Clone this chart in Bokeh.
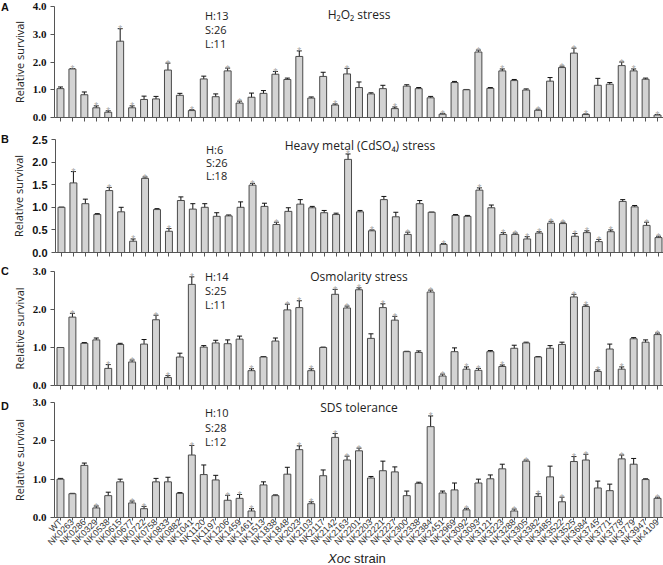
from bokeh.plotting import figure
from bokeh.models import (ColumnDataSource, FactorRange, Range1d, Whisker, TeeHead, Label,
                          FixedTicker, NumeralTickFormatter, CustomJSTickFormatter,
                          CDSView, BooleanFilter, Div)
from bokeh.layouts import column, row
from bokeh.embed import file_html
from bokeh.resources import INLINE
from bokeh.core.properties import value
import math

strains = ["WT", "NK0263", "NK0286", "NK0329", "NK0538", "NK0615", "NK0677", "NK0722", "NK0758",
           "NK0833", "NK0882", "NK1041", "NK1120", "NK1197", "NK1206", "NK1459", "NK1461", "NK1513",
           "NK1838", "NK1848", "NK2023", "NK2103", "NK2117", "NK2142", "NK2163", "NK2201", "NK2203",
           "NK2221", "NK2227", "NK2300", "NK2338", "NK2384", "NK2451", "NK2969", "NK3092", "NK3093",
           "NK3121", "NK3223", "NK3288", "NK3305", "NK3382", "NK3485", "NK3522", "NK3525", "NK3684",
           "NK3745", "NK3771", "NK3778", "NK3779", "NK3947", "NK4109"]

# Panel A: H2O2 stress
h2o2_val = [1.04, 1.75, 0.82, 0.35, 0.19, 2.75, 0.35, 0.65, 0.67, 1.71, 0.80, 0.25, 1.39, 0.75,
            1.68, 0.52, 0.73, 0.87, 1.56, 1.37, 2.20, 0.70, 1.48, 0.45, 1.57, 1.08, 0.85, 1.04,
            0.32, 1.13, 1.04, 0.71, 0.12, 1.26, 1.00, 2.36, 1.05, 1.68, 1.33, 0.99, 0.26, 1.31,
            1.80, 2.32, 0.11, 1.16, 1.20, 1.87, 1.68, 1.38, 0.09]
h2o2_err = [0.06, 0.01, 0.10, 0.07, 0.05, 0.45, 0.07, 0.12, 0.09, 0.25, 0.07, 0.03, 0.10, 0.10,
            0.10, 0.07, 0.15, 0.10, 0.10, 0.05, 0.20, 0.04, 0.15, 0.04, 0.20, 0.20, 0.04, 0.12,
            0.06, 0.05, 0.04, 0.05, 0.03, 0.04, 0.01, 0.07, 0.03, 0.07, 0.04, 0.04, 0.04, 0.13,
            0.05, 0.18, 0.02, 0.25, 0.06, 0.13, 0.07, 0.04, 0.02]
h2o2_sig = [0, 1, 0, 1, 1, 1, 1, 0, 0, 1, 0, 1, 0, 0, 1, 1, 0, 0, 1, 0, 1, 0, 0, 1, 1, 0, 0, 0,
            1, 0, 0, 0, 1, 0, 0, 1, 0, 1, 0, 0, 1, 0, 1, 1, 1, 0, 0, 1, 1, 0, 1]

# Panel B: heavy metal (CdSO4) stress
cd_val = [1.00, 1.54, 1.08, 0.84, 1.37, 0.90, 0.25, 1.64, 0.95, 0.47, 1.15, 0.96, 1.00, 0.80,
          0.81, 1.00, 1.49, 1.02, 0.62, 0.91, 1.07, 0.99, 0.88, 0.84, 2.06, 0.90, 0.48, 1.17,
          0.79, 0.40, 1.08, 0.89, 0.18, 0.82, 0.80, 1.38, 0.99, 0.40, 0.40, 0.30, 0.43, 0.65,
          0.64, 0.36, 0.44, 0.24, 0.46, 1.13, 1.01, 0.60, 0.33]
cd_err = [0.00, 0.25, 0.10, 0.02, 0.07, 0.10, 0.05, 0.03, 0.02, 0.06, 0.08, 0.12, 0.08, 0.08,
          0.02, 0.12, 0.04, 0.07, 0.05, 0.08, 0.10, 0.03, 0.05, 0.03, 0.12, 0.03, 0.02, 0.07,
          0.10, 0.05, 0.07, 0.00, 0.02, 0.02, 0.02, 0.05, 0.06, 0.04, 0.03, 0.05, 0.03, 0.04,
          0.03, 0.06, 0.04, 0.05, 0.04, 0.04, 0.03, 0.07, 0.03]
cd_sig = [0, 1, 0, 0, 1, 0, 1, 1, 0, 1, 0, 0, 0, 0, 0, 0, 1, 0, 1, 0, 0, 0, 0, 0, 1, 0, 1, 0,
          0, 1, 0, 0, 1, 0, 0, 1, 0, 1, 1, 1, 1, 1, 1, 1, 1, 1, 1, 0, 0, 1, 1]

# Panel C: osmolarity stress
osm_val = [1.00, 1.80, 1.11, 1.20, 0.45, 1.08, 0.62, 1.09, 1.73, 0.21, 0.75, 2.66, 1.01, 1.12,
           1.10, 1.22, 0.39, 0.75, 1.17, 1.99, 2.05, 0.39, 1.00, 2.40, 2.04, 2.52, 1.24, 2.05,
           1.72, 0.89, 0.87, 2.46, 0.25, 0.89, 0.43, 0.40, 0.89, 0.50, 0.98, 1.12, 0.75, 0.98,
           1.08, 2.33, 2.08, 0.37, 0.96, 0.43, 1.23, 1.14, 1.34]
osm_err = [0.00, 0.10, 0.02, 0.05, 0.10, 0.03, 0.05, 0.12, 0.12, 0.05, 0.10, 0.20, 0.04, 0.07,
           0.10, 0.08, 0.05, 0.01, 0.08, 0.15, 0.18, 0.05, 0.01, 0.13, 0.05, 0.05, 0.12, 0.10,
           0.10, 0.01, 0.04, 0.05, 0.05, 0.10, 0.06, 0.05, 0.03, 0.04, 0.08, 0.02, 0.01, 0.07,
           0.06, 0.07, 0.04, 0.04, 0.13, 0.06, 0.03, 0.06, 0.04]
osm_sig = [0, 1, 0, 0, 1, 0, 1, 0, 1, 1, 0, 1, 0, 0, 0, 0, 1, 0, 0, 1, 1, 1, 0, 1, 1, 1, 0, 1,
           1, 0, 0, 1, 1, 0, 1, 1, 0, 1, 0, 0, 0, 0, 0, 1, 1, 1, 0, 1, 0, 0, 1]

# Panel D: SDS tolerance
sds_val = [1.00, 0.62, 1.36, 0.25, 0.57, 0.93, 0.38, 0.23, 0.93, 0.93, 0.63, 1.63, 1.12, 0.98,
           0.45, 0.50, 0.17, 0.85, 0.57, 1.13, 1.77, 0.36, 1.09, 2.09, 1.50, 1.74, 1.03, 1.22,
           1.19, 0.57, 0.89, 2.37, 0.64, 0.72, 0.20, 0.90, 1.01, 1.27, 0.17, 1.47, 0.55, 1.06,
           0.41, 1.46, 1.50, 0.77, 0.70, 1.53, 1.39, 0.99, 0.50]
sds_err = [0.02, 0.01, 0.06, 0.05, 0.09, 0.07, 0.05, 0.06, 0.09, 0.12, 0.02, 0.25, 0.25, 0.12,
           0.13, 0.10, 0.06, 0.08, 0.02, 0.18, 0.10, 0.05, 0.15, 0.10, 0.10, 0.07, 0.04, 0.25,
           0.13, 0.12, 0.03, 0.28, 0.05, 0.18, 0.04, 0.10, 0.10, 0.12, 0.05, 0.03, 0.07, 0.28,
           0.12, 0.13, 0.15, 0.18, 0.17, 0.10, 0.15, 0.02, 0.03]
sds_sig = [0, 0, 0, 1, 0, 0, 1, 1, 0, 0, 0, 1, 0, 0, 1, 1, 1, 0, 0, 0, 1, 1, 0, 1, 1, 1, 0, 0,
           0, 0, 0, 1, 0, 0, 1, 0, 0, 0, 1, 1, 1, 0, 1, 1, 1, 0, 0, 1, 0, 0, 1]

panels = [
    dict(letter="A", title="H\u2082O\u2082 stress", counts=["H:13", "S:26", "L:11"],
         val=h2o2_val, err=h2o2_err, sig=h2o2_sig, ymax=4.0, ticks=[0, 1, 2, 3, 4],
         tfont="Liberation Serif", top=6, fh=111, bottom=17, toff=8, coff=[9, 23, 37], lpad=2),
    dict(letter="B", title="Heavy metal (CdSO\u2084) stress", counts=["H:6", "S:26", "L:18"],
         val=cd_val, err=cd_err, sig=cd_sig, ymax=2.5, ticks=[0, 0.5, 1, 1.5, 2, 2.5],
         tfont="Liberation Sans", top=5, fh=113, bottom=14, toff=6, coff=[10, 23, 36], lpad=0),
    dict(letter="C", title="Osmolarity stress", counts=["H:14", "S:25", "L:11"],
         val=osm_val, err=osm_err, sig=osm_sig, ymax=3.0, ticks=[0, 1, 2, 3],
         tfont="Liberation Serif", top=5, fh=114, bottom=12, toff=5, coff=[5, 19, 33], lpad=0),
    dict(letter="D", title="SDS tolerance", counts=["H:10", "S:28", "L:12"],
         val=sds_val, err=sds_err, sig=sds_sig, ymax=3.0, ticks=[0, 1, 2, 3],
         tfont="Liberation Serif", top=5, fh=115, bottom=30, toff=5, coff=[10, 25, 39], lpad=4),
]

FW = 609
xr = FactorRange(*strains, range_padding=0)
rows = []
for k, pc in enumerate(panels):
    last = (k == len(panels) - 1)
    upper = [v + e for v, e in zip(pc["val"], pc["err"])]
    lower = [v - e for v, e in zip(pc["val"], pc["err"])]
    src = ColumnDataSource(dict(x=strains, top=pc["val"], upper=upper, lower=lower,
                                star=["*"] * len(strains)))

    p = figure(x_range=xr, y_range=Range1d(0, pc["ymax"]), frame_width=FW, frame_height=pc["fh"],
               min_border_left=40, min_border_right=4, min_border_top=pc["top"],
               min_border_bottom=pc["bottom"], output_backend="svg", toolbar_location=None)
    p.outline_line_color = None
    p.background_fill_color = "white"
    p.xgrid.grid_line_color = None
    p.ygrid.grid_line_color = None

    p.vbar(x="x", top="top", width=0.58, bottom=0, source=src, fill_color="#d3d3d3",
           line_color="#4a4a4a", line_width=1)
    wh = Whisker(source=src, base="x", upper="upper", lower="lower", line_color="#111111",
                 line_width=1,
                 upper_head=TeeHead(size=5, line_color="#111111", line_width=1),
                 lower_head=TeeHead(size=5, line_color="#111111", line_width=1))
    p.add_layout(wh)
    view = CDSView(filter=BooleanFilter(booleans=[bool(s) for s in pc["sig"]]))
    p.text(x="x", y="upper", text="star", source=src, view=view, text_font_size="10px",
           text_color="#aaaaaa", text_align="center", text_baseline="alphabetic",
           y_offset=1, text_font=value("Liberation Sans"))

    # y axis
    p.yaxis.ticker = FixedTicker(ticks=pc["ticks"], minor_ticks=[])
    p.yaxis.formatter = NumeralTickFormatter(format="0.0")
    p.yaxis.major_label_text_font = pc["tfont"]
    p.yaxis.major_label_text_font_style = "bold"
    p.yaxis.major_label_text_font_size = "11px"
    p.yaxis.major_label_text_color = "#111111"
    p.yaxis.major_tick_out = 4
    p.yaxis.major_tick_in = 0
    p.yaxis.major_label_standoff = 4
    p.yaxis.axis_label = "Relative survival"
    p.yaxis.axis_label_text_font = "Open Sans"
    p.yaxis.axis_label_text_font_style = "normal"
    p.yaxis.axis_label_text_font_size = "11px"
    p.yaxis.axis_label_text_color = "#222222"
    p.yaxis.axis_label_standoff = 3
    p.yaxis.axis_line_color = "#555555"
    p.yaxis.major_tick_line_color = "#555555"

    # x axis
    p.xaxis.axis_line_color = "#555555"
    p.xaxis.major_tick_line_color = "#555555"
    p.xaxis.major_tick_in = 0
    p.xaxis.minor_tick_line_color = None
    if last:
        p.xaxis.major_tick_out = 3
        p.xaxis.major_label_orientation = math.pi / 4
        p.xaxis.major_label_text_font = "Liberation Sans"
        p.xaxis.major_label_text_font_size = "9px"
        p.xaxis.major_label_text_color = "#333333"
        p.xaxis.major_label_standoff = 0
    else:
        p.xaxis.major_tick_out = 4
        p.xaxis.formatter = CustomJSTickFormatter(code="return '';")
        p.xaxis.major_label_standoff = 0
        p.xaxis.major_label_text_font_size = "1px"

    ppu = pc["fh"] / pc["ymax"]
    ymax = pc["ymax"]
    p.add_layout(Label(x=25.5, y=ymax - pc["toff"] / ppu, text=pc["title"], text_align="center",
                       text_baseline="middle", text_font="Open Sans", text_font_size="12px",
                       text_color="#222222"))
    for j, t in enumerate(pc["counts"]):
        p.add_layout(Label(x=12.6, y=ymax - pc["coff"][j] / ppu, text=t, text_align="left",
                           text_baseline="middle", text_font="Open Sans", text_font_size="11px",
                           text_color="#222222"))

    letter = Div(text=pc["letter"], width=8, height=20, margin=0,
                 styles={"font-family": "Liberation Sans", "font-weight": "bold",
                         "font-size": "11px", "line-height": "11px", "color": "#111111",
                         "padding-top": "%dpx" % pc["lpad"], "padding-left": "1px",
                         "box-sizing": "border-box", "overflow": "visible"})
    rows.append(row(letter, p, spacing=0))

xlab = Div(text="<i>Xoc</i> strain", width=661, height=12, margin=0,
           styles={"font-family": "Liberation Sans", "font-size": "13px", "line-height": "12px",
                   "color": "#222222", "padding-left": "328px", "box-sizing": "border-box"})

layout = column(*rows, xlab, spacing=0)
open("out.html", "w").write(file_html(layout, INLINE))
